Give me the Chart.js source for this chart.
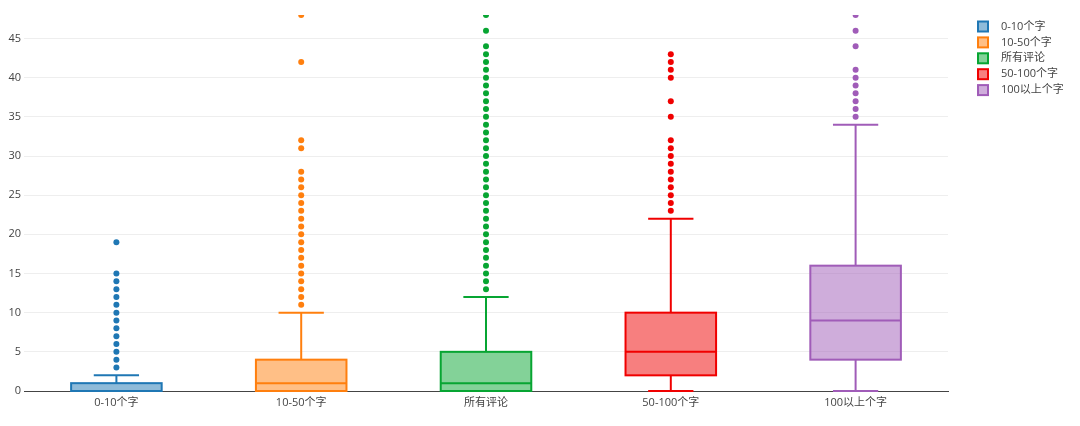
<!DOCTYPE html>
<html><head><meta charset="utf-8">
<script src="https://cdn.jsdelivr.net/npm/chart.js@4.4.1/dist/chart.umd.min.js"></script>
<style>html,body{margin:0;padding:0;background:#fff;}#wrap{width:1080px;height:426px;position:relative;}</style>
</head><body><div id="wrap"><canvas id="c"></canvas></div>
<script>
const categories = ['0-10个字', '10-50个字', '所有评论', '50-100个字', '100以上个字'];
const q1 = [0, 0, 0, 2, 4];
const median = [0, 1, 1, 5, 9];
const q3 = [1, 4, 5, 10, 16];
const whiskerLow = [0, 0, 0, 0, 0];
const whiskerHigh = [2, 10, 12, 22, 34];
const outliers0 = [3, 4, 5, 6, 7, 8, 9, 10, 11, 12, 13, 14, 15, 19];
const outliers1 = [11, 12, 13, 14, 15, 16, 17, 18, 19, 20, 21, 22, 23, 24, 25, 26, 27, 28, 31, 32, 42, 48];
const outliers2 = [13, 14, 15, 16, 17, 18, 19, 20, 21, 22, 23, 24, 25, 26, 27, 28, 29, 30, 31, 32, 33, 34, 35, 36, 37, 38, 39, 40, 41, 42, 43, 44, 46, 48];
const outliers3 = [23, 24, 25, 26, 27, 28, 29, 30, 31, 32, 35, 37, 40, 41, 42, 43];
const outliers4 = [35, 36, 37, 38, 39, 40, 41, 44, 46, 48];
const outliers = [outliers0, outliers1, outliers2, outliers3, outliers4];
const yTicks = [0, 5, 10, 15, 20, 25, 30, 35, 40, 45];
const yMax = 48;
const colors = ['#1f77b4', '#ff7f0e', '#07a532', '#f00000', '#a05cb8'];

function alpha(hex, a) {
  const n = parseInt(hex.slice(1), 16);
  return `rgba(${(n >> 16) & 255},${(n >> 8) & 255},${n & 255},${a})`;
}
const FONT = "'Open Sans', 'Noto Sans CJK SC', sans-serif";

const boxDatasets = categories.map((c, i) => ({
  type: 'bar',
  label: c,
  data: categories.map((_, j) => j === i ? [q1[i], q3[i]] : null),
  backgroundColor: alpha(colors[i], 0.5),
  borderColor: colors[i],
  borderWidth: 0,
  borderSkipped: false,
  grouped: false,
  categoryPercentage: 1,
  barPercentage: 0.49,
  order: 1
}));
const pointDatasets = categories.map((c, i) => ({
  type: 'scatter',
  label: c + ' outliers',
  data: outliers[i].map(v => ({ x: c, y: v })),
  pointRadius: 3,
  pointBackgroundColor: colors[i],
  pointBorderWidth: 0,
  showLine: false,
  clip: 0,
  order: 0
}));

const boxParts = {
  id: 'boxParts',
  afterDatasetsDraw(chart) {
    const ctx = chart.ctx, ys = chart.scales.y;
    categories.forEach((c, i) => {
      const bar = chart.getDatasetMeta(i).data[i];
      if (!bar) return;
      const cx = bar.x, half = bar.width / 2, cap = half / 2;
      ctx.save();
      ctx.strokeStyle = colors[i];
      ctx.lineWidth = 2;
      const seg = (x1, y1, x2, y2) => { ctx.beginPath(); ctx.moveTo(x1, y1); ctx.lineTo(x2, y2); ctx.stroke(); };
      const yTop = ys.getPixelForValue(q3[i]), yBot = ys.getPixelForValue(q1[i]);
      ctx.strokeRect(cx - half, yTop, half * 2, yBot - yTop);
      const ym = ys.getPixelForValue(median[i]);
      seg(cx - half, ym, cx + half, ym);
      if (whiskerHigh[i] > q3[i]) {
        const yh = ys.getPixelForValue(whiskerHigh[i]);
        seg(cx, yTop, cx, yh);
        seg(cx - cap, yh, cx + cap, yh);
      }
      if (whiskerLow[i] < q1[i]) {
        const yl = ys.getPixelForValue(whiskerLow[i]);
        seg(cx, yBot, cx, yl);
        seg(cx - cap, yl, cx + cap, yl);
      }
      ctx.restore();
    });
  }
};

const legendPlugin = {
  id: 'sideLegend',
  afterDraw(chart) {
    const ctx = chart.ctx;
    ctx.save();
    ctx.font = `11px ${FONT}`;
    ctx.textBaseline = 'middle';
    ctx.textAlign = 'left';
    categories.forEach((c, i) => {
      const y = 26.5 + i * 15.9;
      ctx.fillStyle = alpha(colors[i], 0.5);
      ctx.fillRect(978, y - 5, 10, 10);
      ctx.strokeStyle = colors[i];
      ctx.lineWidth = 2;
      ctx.strokeRect(978, y - 5, 10, 10);
      ctx.fillStyle = '#444';
      ctx.fillText(c, 1001, y);
    });
    ctx.restore();
  }
};

new Chart(document.getElementById('c'), {
  type: 'bar',
  data: { labels: categories, datasets: [...boxDatasets, ...pointDatasets] },
  options: {
    responsive: true,
    maintainAspectRatio: false,
    animation: false,
    events: [],
    layout: { padding: { top: 15, right: 132, left: 0, bottom: 0 } },
    plugins: { legend: { display: false }, tooltip: { enabled: false } },
    scales: {
      x: {
        type: 'category',
        offset: true,
        grid: { display: false, drawTicks: false },
        border: { display: true, color: '#444', width: 1 },
        ticks: { color: '#444', font: { family: FONT, size: 11 }, padding: 5, maxRotation: 0 },
        afterFit: s => { s.height = 35; }
      },
      y: {
        type: 'linear',
        min: 0,
        max: yMax,
        grid: { color: '#eeeeee', lineWidth: 1, drawTicks: false },
        border: { display: false },
        ticks: { color: '#444', font: { family: FONT, size: 11 }, padding: 3 },
        afterBuildTicks: s => { s.ticks = yTicks.map(v => ({ value: v })); },
        afterFit: s => { s.width = 24; }
      }
    }
  },
  plugins: [boxParts, legendPlugin]
});
</script></body></html>
